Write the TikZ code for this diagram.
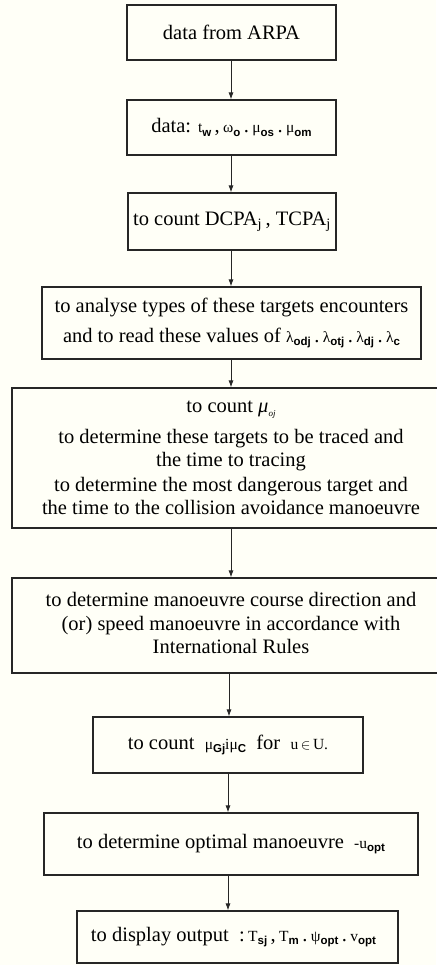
\documentclass[tikz,border=0pt]{standalone}
\usepackage{fontspec}
\setmainfont{Liberation Serif}
\setsansfont{Liberation Sans}
\usetikzlibrary{arrows.meta}

% small symbol with a bold sans subscript
\newcommand{\symq}[2]{{\fontsize{15.5}{15.5}\selectfont #1}{\fontsize{11.5}{11.5}\selectfont\sffamily\bfseries\raisebox{-3.5pt}{#2}}}
\newcommand{\smallq}[1]{{\fontsize{15.5}{15.5}\selectfont #1}}

\begin{document}
\begin{tikzpicture}[x=1pt,y=-1pt,
  box/.style={draw=black!85,line width=1.1pt,inner sep=0pt,align=center,
    font=\fontsize{20.5}{23.5}\selectfont},
  arr/.style={draw=black!85,line width=0.9pt,-{Latex[length=7pt,width=5pt]}}]
\fill[white!97!yellow] (0,0) rectangle (436,965);
\useasboundingbox (0,0) rectangle (436,965);

\node[box,minimum width=209pt,minimum height=55pt] (b1) at (231.5,32.5) {data from ARPA};
\node[box,minimum width=209pt,minimum height=55pt] (b2) at (231.5,127.5)
  {data: \symq{t}{w}\,,\,\symq{ω}{o}\,.\,\symq{μ}{os}\,.\,\symq{μ}{om}};
\node[box,minimum width=208pt,minimum height=57pt] (b3) at (232,221.5)
  {\raisebox{3pt}{to count DCPA\textsubscript{j}\,, TCPA\textsubscript{j}}};
\node[box,minimum width=379pt,minimum height=72pt] (b4) at (231.5,323)
  {to analyse types of these targets encounters\\[6pt]
   and to read these values of \symq{λ}{odj}\,.\,\symq{λ}{otj}\,.\,\symq{λ}{dj}\,.\,\symq{λ}{c}};
\node[box,minimum width=438pt,minimum height=140pt] (b5) at (231,458)
  {to count \textit{μ}{\fontsize{9}{9}\selectfont\itshape\raisebox{-3.5pt}{oj}}\\[7pt]
   to determine these targets to be traced and\\
   the time to tracing\\[1pt]
   to determine the most dangerous target and\\
   the time to the collision avoidance manoeuvre};
\node[box,minimum width=438pt,minimum height=95pt] (b6) at (231,625.5)
  {\raisebox{7pt}{\begin{tabular}{@{}c@{}}to determine manoeuvre course direction and\\
   (or) speed manoeuvre in accordance with\\
   International Rules\end{tabular}}};
\node[box,minimum width=270pt,minimum height=56pt] (b7) at (228,745)
  {\raisebox{3pt}{to count\ \ \symq{μ}{Gj}\smallq{i}\symq{μ}{C}\ \ for\ \ \smallq{u\,$\in$\,U.}}};
\node[box,minimum width=374pt,minimum height=62pt] (b8) at (231,844)
  {to determine optimal manoeuvre\ \ \smallq{-u}{\fontsize{11.5}{11.5}\selectfont\sffamily\bfseries\raisebox{-3.5pt}{opt}}};
\node[box,minimum width=321pt,minimum height=52pt] (b9) at (237.5,937)
  {to display output\ \ :\,\symq{T}{sj}\,,\,\symq{T}{m}\,.\,\symq{ψ}{opt}\,.\,\symq{v}{opt}\hspace{8pt}};

\draw[arr] (b1.south -| 231,0) -- (b2.north -| 231,0);
\draw[arr] (b2.south -| 231,0) -- (b3.north -| 231,0);
\draw[arr] (b3.south -| 231,0) -- (b4.north -| 231,0);
\draw[arr] (b4.south -| 231,0) -- (b5.north -| 231,0);
\draw[arr] (b5.south -| 231,0) -- (b6.north -| 231,0);
\draw[arr] (b6.south -| 229,0) -- (b7.north -| 229,0);
\draw[arr] (b7.south -| 228,0) -- (b8.north -| 228,0);
\draw[arr] (b8.south -| 228,0) -- (b9.north -| 228,0);
\end{tikzpicture}
\end{document}
